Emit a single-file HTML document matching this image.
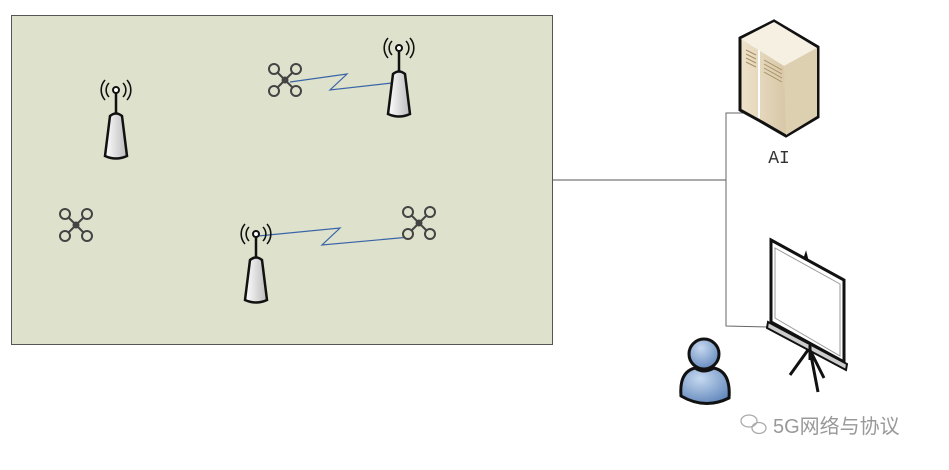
<!DOCTYPE html>
<html><head><meta charset="utf-8"><style>body{margin:0;background:#fff}</style></head><body>
<svg width="949" height="465" xmlns="http://www.w3.org/2000/svg" font-family="Liberation Sans, sans-serif">
<defs>
<linearGradient id="tw" x1="0" x2="1"><stop offset="0" stop-color="#fff"/><stop offset="1" stop-color="#bbb"/></linearGradient>
<linearGradient id="sv" x1="0" x2="1"><stop offset="0" stop-color="#eee3cb"/><stop offset="1" stop-color="#c9b48f"/></linearGradient>
<radialGradient id="pp" cx="0.4" cy="0.3" r="0.8"><stop offset="0" stop-color="#c6d9f0"/><stop offset="1" stop-color="#5b82b8"/></radialGradient>
<g id="tower">
<path d="M-7 -11 A10 10 0 0 0 -7 3 M7 -11 A10 10 0 0 1 7 3 M-11 -14 A15 15 0 0 0 -11 6 M11 -14 A15 15 0 0 1 11 6" fill="none" stroke="#111" stroke-width="1.6"/>
<circle cx="0" cy="-4" r="3" fill="#fff" stroke="#111" stroke-width="2"/>
<line x1="0" y1="-1" x2="0" y2="20" stroke="#111" stroke-width="2.5"/>
<path d="M-6 22 Q0 17 6 22 L11 62 Q0 67 -11 62 Z" fill="url(#tw)" stroke="#111" stroke-width="2.5"/>
</g>
<g id="drone" stroke="#444" stroke-width="2" fill="none">
<line x1="-11" y1="-11" x2="11" y2="11"/><line x1="11" y1="-11" x2="-11" y2="11"/>
<circle cx="-11" cy="-11" r="5" fill="#dee2cc"/><circle cx="11" cy="-11" r="5" fill="#dee2cc"/>
<circle cx="-11" cy="11" r="5" fill="#dee2cc"/><circle cx="11" cy="11" r="5" fill="#dee2cc"/>
<circle cx="0" cy="0" r="2.5" fill="#444"/>
</g>
</defs>
<rect x="11.5" y="15.5" width="541" height="329" fill="#dee2cc" stroke="#555"/>
<polyline points="290,82 347,74 330,90 392,83" fill="none" stroke="#3a64a8" stroke-width="1.2"/>
<polyline points="258,236 340,228 322,245 410,237" fill="none" stroke="#3a64a8" stroke-width="1.2"/>
<use href="#tower" x="116" y="94"/>
<use href="#tower" x="399" y="52"/>
<use href="#tower" x="256" y="238"/>
<use href="#drone" x="285" y="80"/>
<use href="#drone" x="76" y="225"/>
<use href="#drone" x="419" y="223"/>
<polyline points="552,180 726,180" fill="none" stroke="#555"/>
<polyline points="745,113 726,113 726,326 769,327" fill="none" stroke="#666"/>
<!-- server -->
<polygon points="740,38 774,21 818,47 818,117 786,136 760,121 740,110" fill="url(#sv)" stroke="#111" stroke-width="3"/>
<polygon points="741,39 774,22 817,48 784,66" fill="#f6f0e2"/>
<polygon points="784,66 817,48 817,116 786,135" fill="#ddd0b0"/>
<path d="M746 50 L756 55 M746 54 L756 59 M746 58 L756 63 M746 62 L756 67 M764 60 L782 70 M764 64 L782 74 M764 68 L782 78 M764 72 L782 82" stroke="#a88e63"/>
<line x1="759" y1="50" x2="759" y2="118" stroke="#fff" stroke-width="2"/>
<text x="779" y="163" font-family="Liberation Mono, monospace" font-size="18" text-anchor="middle" fill="#333">AI</text>
<!-- screen -->
<polygon points="771,240 844,280 844,362 771,322" fill="#fff" stroke="#111" stroke-width="3"/>
<polygon points="775,248 840,284 840,356 775,318" fill="none" stroke="#999"/>
<path d="M804 258 L806 252 L808 260" fill="#111" stroke="#111"/>
<path d="M768 322 L847 364 L846 370 L767 328 Z" fill="#ccc" stroke="#111" stroke-width="2"/>
<path d="M808 350 L790 375 M810 350 L818 392 M810 350 L824 378 M810 345 L810 360" stroke="#111" stroke-width="3"/>
<!-- person -->
<circle cx="704" cy="354" r="15" fill="url(#pp)" stroke="#111" stroke-width="3"/>
<path d="M681 396 Q679 372 695 368 Q704 374 714 368 Q731 372 729 398 Q705 410 681 396 Z" fill="url(#pp)" stroke="#111" stroke-width="3"/>
<!-- watermark -->
<g fill="none" stroke="#aaa" stroke-width="1.3"><ellipse cx="749" cy="421" rx="8" ry="6"/><ellipse cx="759" cy="428" rx="7" ry="5.5"/></g>
<text x="773" y="433" font-size="20" fill="#999" font-family="Liberation Sans, Noto Sans CJK SC, sans-serif">5G网络与协议</text>
</svg>
</body></html>
